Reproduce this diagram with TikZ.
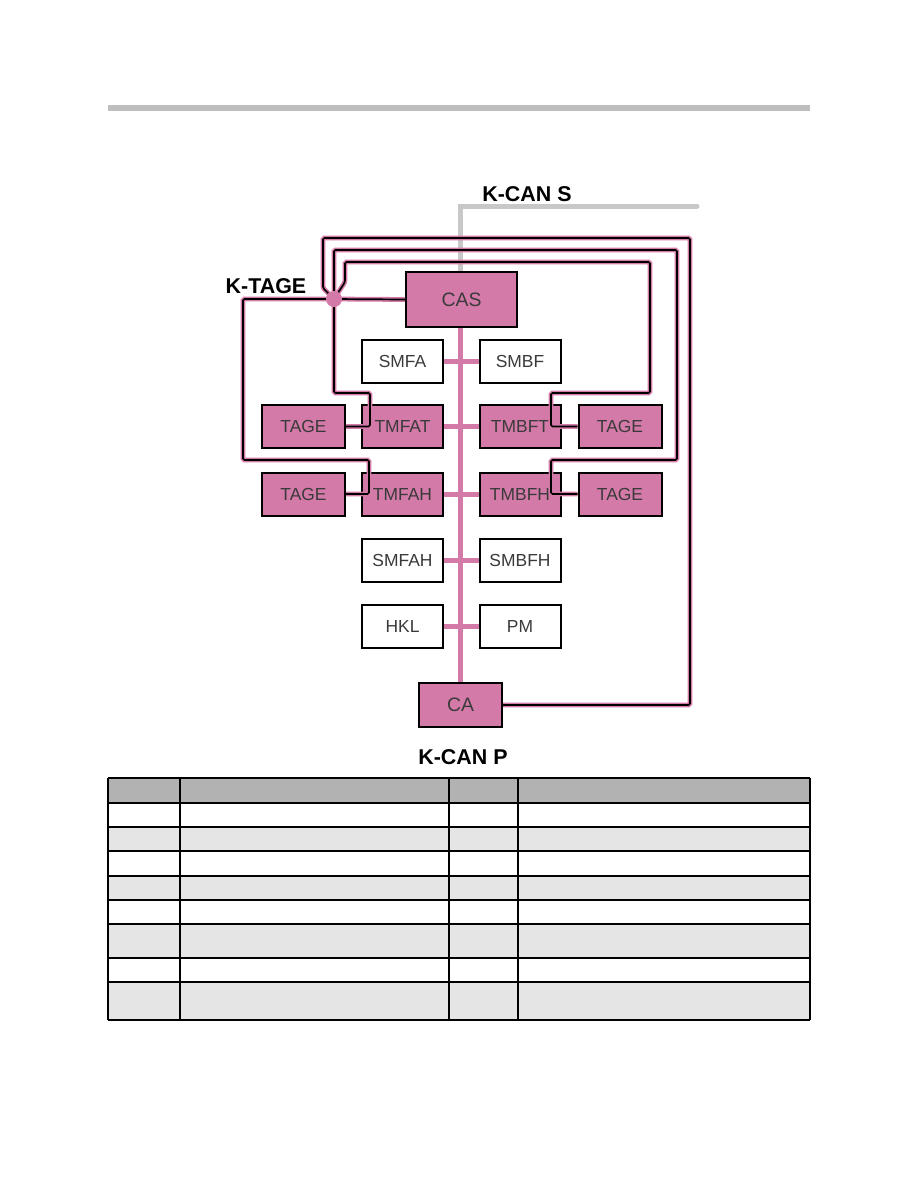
\documentclass[tikz,border=0pt]{standalone}
\usepackage{fontspec}
\setmainfont{Liberation Sans}
\usetikzlibrary{positioning,calc,backgrounds}

\definecolor{canpink}{HTML}{D47AA8}
\definecolor{cangrey}{HTML}{C8C8C8}
\definecolor{rulegrey}{HTML}{BEBEBE}
\definecolor{boxtext}{HTML}{3A3A3A}
\definecolor{headgrey}{HTML}{B2B2B2}
\definecolor{rowgrey}{HTML}{E5E5E5}

\begin{document}
\begin{tikzpicture}[x=1bp, y=-1bp,
  every node/.style={font=\fontsize{17.5}{20}\selectfont, text=boxtext},
  ecu/.style={draw, line width=2bp, fill=white, rectangle,
              minimum width=81bp, minimum height=43bp, inner sep=0pt},
  tecu/.style={ecu, fill=canpink},
  bigecu/.style={tecu, font=\fontsize{19.5}{22}\selectfont},
  bus/.style={draw=canpink, line width=5bp},
  wire/.style={draw=black, line width=1.7bp, rounded corners=1.5bp,
               preaction={draw=canpink, line width=4.8bp}},
  lbl/.style={font=\fontsize{21.5}{24}\selectfont\bfseries, text=black},
  cell/.style={draw=black, line width=1.4bp}]

\useasboundingbox (0,0) rectangle (918,1188);

%% --- Header rule ---
\fill[rulegrey] (108,105) rectangle (810,110.5);

%% --- Control units ---
\node[bigecu, minimum width=111bp, minimum height=55bp] (CAS) at (461.5,299.5) {CAS};
\node[ecu]  (SMFA)   at (402.5,361.5) {SMFA};
\node[ecu]  (SMBF)   at (520.0,361.5) {SMBF};
\node[tecu] (TMFAT)  at (402.5,426.5) {TMFAT};
\node[tecu] (TMBFT)  at (520.0,426.5) {TMBFT};
\node[tecu, minimum width=83bp] (TAGEFAT) at (303.5,426.5) {TAGE};
\node[tecu, minimum width=83bp] (TAGEBFT) at (620.0,426.5) {TAGE};
\node[tecu] (TMFAH)  at (402.5,494.0) {TMFAH};
\node[tecu] (TMBFH)  at (520.0,494.0) {TMBFH};
\node[tecu, minimum width=83bp] (TAGEFAH) at (303.5,494.0) {TAGE};
\node[tecu, minimum width=83bp] (TAGEBFH) at (620.0,494.0) {TAGE};
\node[ecu]  (SMFAH)  at (402.5,560.0) {SMFAH};
\node[ecu]  (SMBFH)  at (520.0,560.0) {SMBFH};
\node[ecu]  (HKL)    at (402.5,626.5) {HKL};
\node[ecu]  (PM)     at (520.0,626.5) {PM};
\node[bigecu, minimum width=83bp, minimum height=44bp] (CA) at (460.5,705.0) {CA};

%% --- Bus labels ---
\node[lbl] (KCANS) at (527,194) {K-CAN S};
\node[lbl] (KTAGE) at (266,286) {K-TAGE};
\node[lbl] (KCANP) at (463,757) {K-CAN P};
\coordinate (KCANSEND) at (697,206);

%% --- K-CAN S and K-CAN P (behind the units) ---
\begin{scope}[on background layer]
\draw[draw=cangrey, line width=5bp, line cap=round]
  (CAS.north -| 460,0) -- (460,206) -- (KCANSEND);
\draw[bus] (CAS.south -| 460,0) -- (CA.north -| 460,0);
\draw[bus] (SMFA.east)  -- (SMBF.west);
\draw[bus] (TMFAT.east) -- (TMBFT.west);
\draw[bus] (TMFAH.east) -- (TMBFH.west);
\draw[bus] (SMFAH.east) -- (SMBFH.west);
\draw[bus] (HKL.east)   -- (PM.west);
\end{scope}

%% --- K-TAGE star ---
\coordinate (STAR) at (334,299);
\draw[wire] (STAR) -- (CAS.west);
\draw[wire] (STAR) -| (243,460) -| ([xshift=8bp]TMFAH.west) -- (TAGEFAH.east);
\draw[wire] (STAR) |- (370,393) |- (TAGEFAT.east);
\draw[wire] (STAR) -- (323,288) -- (323,238) -| (690,705) -- (CA.east);
\draw[wire] (STAR) |- (677,250) |- (551,460) |- (TAGEBFH.west);
\draw[wire] (STAR) -- (345,282) -- (345,262) -| (650,393) -| (551,426.5) -- (TAGEBFT.west);
\node[circle, fill=canpink, minimum size=16bp, inner sep=0pt] (JOINT) at (STAR) {};

%% --- Table ---
\fill[headgrey] (108,778) rectangle (810,803);
\foreach \ya/\yb in {827/851, 876/900, 924/958, 982/1020}
  \fill[rowgrey] (108,\ya) rectangle (810,\yb);
\foreach \y in {778,803,827,851,876,900,924,958,982,1020}
  \draw[cell] (108,\y) -- (810,\y);
\foreach \x in {108,180,449,518,810}
  \draw[cell] (\x,778) -- (\x,1020);

\end{tikzpicture}
\end{document}
